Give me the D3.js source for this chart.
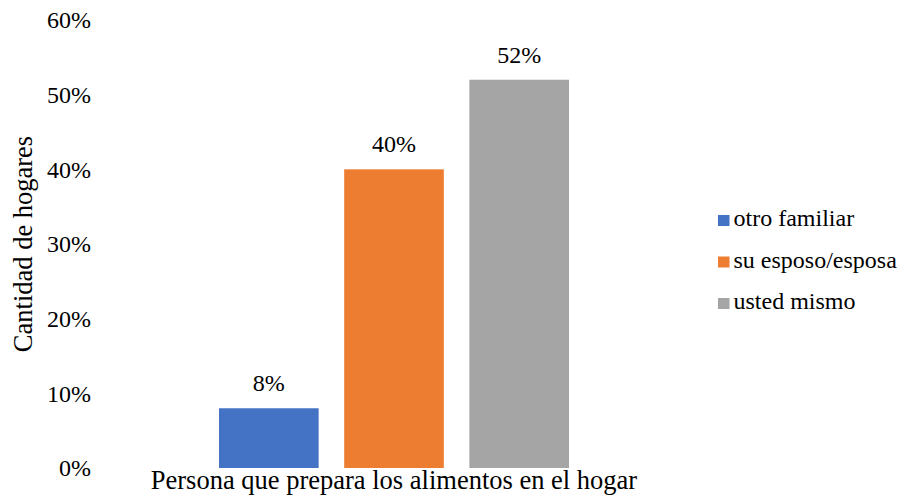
<!DOCTYPE html>
<html>
<head>
<meta charset="utf-8">
<script src="https://cdn.jsdelivr.net/npm/d3@7"></script>
<style>
  html, body { margin: 0; padding: 0; background: #fff; }
  svg text { font-family: "Liberation Serif", "Times New Roman", serif; fill: #000; }
</style>
</head>
<body>
<svg id="chart" width="903" height="502"></svg>
<script>
// Who prepares food in the household (share of households)
const categories = ["otro familiar", "su esposo/esposa", "usted mismo"];
const values = [8, 40, 52];
const colors = ["#4472C4", "#ED7D31", "#A5A5A5"];
const yTicks = [0, 10, 20, 30, 40, 50, 60];
const yTitle = "Cantidad de hogares";
const xTitle = "Persona que prepara los alimentos en el hogar";

const svg = d3.select("#chart");
const plot = { top: 20, bottom: 468 };

const y = d3.scaleLinear().domain([0, 60]).range([plot.bottom, plot.top]);
const x = d3.scaleBand().domain(categories)
  .range([219, 569]).paddingInner(0.204).paddingOuter(0);

// Y axis: labels only, no line or ticks
const yAxis = d3.axisLeft(y).tickValues(yTicks).tickFormat(d => d + "%").tickSize(0).tickPadding(0);
const gy = svg.append("g").attr("transform", "translate(91,0)").call(yAxis);
gy.select(".domain").remove();
gy.attr("font-family", null).attr("font-size", null);
gy.selectAll("text").style("font-size", "24px").attr("fill", "#000");

// Bars
svg.append("g").selectAll("rect").data(values).join("rect")
  .attr("x", (d, i) => x(categories[i]))
  .attr("y", d => y(d))
  .attr("width", x.bandwidth())
  .attr("height", d => y(0) - y(d))
  .attr("fill", (d, i) => colors[i]);

// Value labels
svg.append("g").selectAll("text").data(values).join("text")
  .attr("x", (d, i) => x(categories[i]) + x.bandwidth() / 2)
  .attr("y", d => y(d) - 17)
  .attr("text-anchor", "middle")
  .style("font-size", "24px")
  .text(d => d + "%");

// Axis titles
svg.append("text")
  .attr("transform", "translate(32,244) rotate(-90)")
  .attr("text-anchor", "middle")
  .style("font-size", "26.5px")
  .text(yTitle);

svg.append("text")
  .attr("x", 394).attr("y", 489)
  .attr("text-anchor", "middle")
  .style("font-size", "26.5px")
  .text(xTitle);

// Legend
const legend = svg.append("g").selectAll("g").data(categories).join("g")
  .attr("transform", (d, i) => `translate(718,${226 + i * 41.5})`);
legend.append("rect").attr("x", 0).attr("y", -11).attr("width", 11.5).attr("height", 11)
  .attr("fill", (d, i) => colors[i]);
legend.append("text").attr("x", 15.5).attr("y", 0)
  .style("font-size", "24px").text(d => d);
</script>
</body>
</html>
